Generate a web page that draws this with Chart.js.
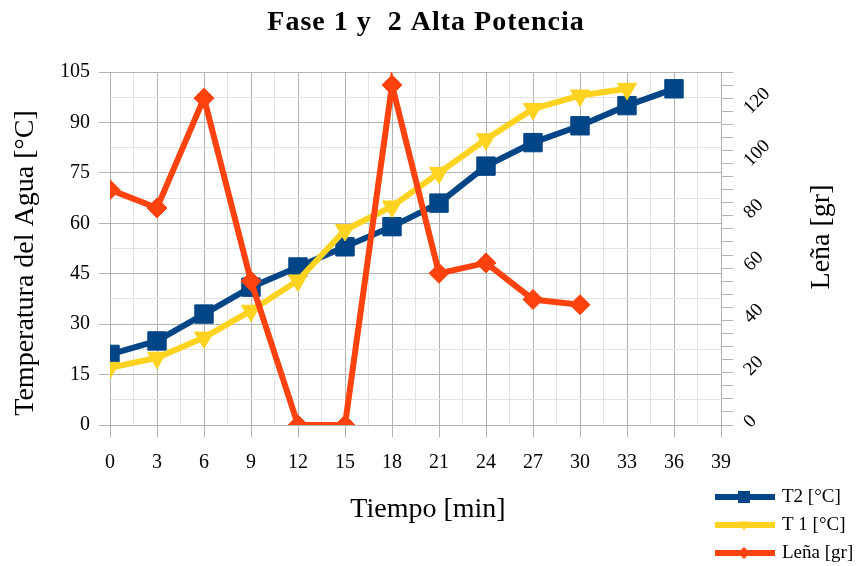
<!DOCTYPE html>
<html>
<head>
<meta charset="utf-8">
<script src="https://cdn.jsdelivr.net/npm/chart.js@4.4.1/dist/chart.umd.min.js"></script>
<style>
  html, body { margin: 0; padding: 0; background: #fff; }
  #wrap { width: 868px; height: 566px; }
</style>
</head>
<body>
<div id="wrap"><canvas id="faseChart" width="868" height="566"></canvas></div>
<script>
const chartTitle = "Fase 1 y  2 Alta Potencia";
const xTitle = "Tiempo [min]";
const yLeftTitle = "Temperatura del Agua [°C]";
const yRightTitle = "Leña [gr]";

// tiempo [min]
const tiempo = [0, 3, 6, 9, 12, 15, 18, 21, 24, 27, 30, 33, 36];
const t2 = [21, 25, 33, 41, 47, 53, 59, 66, 77, 84, 89, 95, 100];
const t1 = [17, 20, 26, 34, 43, 58, 65, 75, 85, 94, 98, 100];
const lena = [90, 83, 125, 55, 0, 0, 130, 58, 62, 48, 46];

const seriesNames = ["T2 [°C]", "T 1 [°C]", "Leña [gr]"];
const colors = ["#004586", "#ffd320", "#ff420e"];

const serif = '"Liberation Serif", "DejaVu Serif", serif';
const gridMajor = "#b3b3b3";
const gridMinor = "#e3e3e3";

function pts(ys) {
    return ys.map((y, i) => ({x: tiempo[i], y: y}));
}

function isMult(v, m) {
    return Math.abs(v / m - Math.round(v / m)) < 1e-6;
}

function drawMarker(ctx, shape, x, y, r) {
    ctx.beginPath();
    if (shape === 'rect') {
        ctx.rect(x - r, y - r, 2 * r, 2 * r);
    } else if (shape === 'triangle') {
        ctx.moveTo(x - r, y - r * 0.6);
        ctx.lineTo(x + r, y - r * 0.6);
        ctx.lineTo(x, y + r * 0.9);
        ctx.closePath();
    } else {
        ctx.moveTo(x, y - r);
        ctx.lineTo(x + r, y);
        ctx.lineTo(x, y + r);
        ctx.lineTo(x - r, y);
        ctx.closePath();
    }
    ctx.fill();
}

function rotatedText(ctx, text, x, y) {
    ctx.save();
    ctx.translate(x, y);
    ctx.rotate(-Math.PI / 2);
    ctx.fillText(text, 0, 0);
    ctx.restore();
}

const extras = {
    id: 'extras',
    afterDraw(chart) {
        const ctx = chart.ctx;
        ctx.save();
        ctx.fillStyle = '#000';
        ctx.textAlign = 'center';
        ctx.textBaseline = 'middle';

        ctx.font = 'bold 28px ' + serif;
        ctx.letterSpacing = '1px';
        ctx.fillText(chartTitle, 426, 23);
        ctx.letterSpacing = '0px';

        ctx.font = '28px ' + serif;
        ctx.fillText(xTitle, 428, 510);
        rotatedText(ctx, yLeftTitle, 26, 263);
        rotatedText(ctx, yRightTitle, 822, 237);

        // leyenda
        const shapes = ['rect', 'triangle', 'diamond'];
        const rows = [497, 525, 553];
        ctx.textAlign = 'left';
        ctx.font = '19px ' + serif;
        for (let i = 0; i < 3; i++) {
            ctx.strokeStyle = colors[i];
            ctx.fillStyle = colors[i];
            ctx.lineWidth = 6;
            ctx.beginPath();
            ctx.moveTo(715, rows[i]);
            ctx.lineTo(775, rows[i]);
            ctx.stroke();
            drawMarker(ctx, shapes[i], 744, rows[i], 6);
            ctx.fillStyle = '#000';
            ctx.fillText(seriesNames[i], 782, rows[i]);
        }
        ctx.restore();
    }
};

new Chart(document.getElementById('faseChart'), {
    type: 'line',
    plugins: [extras],
    data: {
        datasets: [
            {
                label: seriesNames[0],
                data: pts(t2),
                borderColor: colors[0],
                backgroundColor: colors[0],
                borderWidth: 6,
                pointStyle: 'rect',
                pointRadius: 13,
                pointBorderWidth: 1,
                yAxisID: 'y',
                order: 3
            },
            {
                label: seriesNames[1],
                data: pts(t1),
                borderColor: colors[1],
                backgroundColor: colors[1],
                borderWidth: 6,
                pointStyle: 'triangle',
                pointRotation: 180,
                pointRadius: 11,
                pointBorderWidth: 1,
                yAxisID: 'y',
                order: 2
            },
            {
                label: seriesNames[2],
                data: pts(lena),
                borderColor: colors[2],
                backgroundColor: colors[2],
                borderWidth: 6,
                pointStyle: 'rectRot',
                pointRadius: 10,
                pointBorderWidth: 1,
                yAxisID: 'y1',
                order: 1
            }
        ]
    },
    options: {
        responsive: false,
        animation: false,
        maintainAspectRatio: false,
        layout: {
            padding: {top: 72, left: 0, right: 0, bottom: 0}
        },
        plugins: {
            legend: {display: false},
            title: {display: false},
            tooltip: {enabled: false}
        },
        scales: {
            x: {
                type: 'linear',
                min: 0,
                max: 39,
                afterFit: (s) => { s.height = 141; },
                border: {color: gridMajor, width: 1},
                grid: {
                    color: (c) => isMult(c.tick.value, 3) ? gridMajor : gridMinor,
                    tickColor: (c) => isMult(c.tick.value, 3) ? gridMajor : 'rgba(0,0,0,0)',
                    tickLength: 12
                },
                ticks: {
                    stepSize: 1.5,
                    autoSkip: false,
                    maxRotation: 0,
                    padding: 14,
                    color: '#000',
                    font: {family: serif, size: 20},
                    callback: (v) => isMult(v, 3) ? String(Math.round(v)) : ''
                }
            },
            y: {
                position: 'left',
                min: 0,
                max: 105,
                afterFit: (s) => { s.width = 110; },
                border: {color: gridMajor, width: 1},
                grid: {
                    color: (c) => isMult(c.tick.value, 15) ? gridMajor : gridMinor,
                    tickColor: (c) => isMult(c.tick.value, 15) ? gridMajor : 'rgba(0,0,0,0)',
                    tickLength: 11
                },
                ticks: {
                    stepSize: 7.5,
                    autoSkip: false,
                    padding: 9,
                    color: '#000',
                    font: {family: serif, size: 20},
                    callback: (v) => isMult(v, 15) ? String(Math.round(v)) : ''
                }
            },
            y1: {
                position: 'right',
                min: 0,
                max: 135,
                afterFit: (s) => { s.width = 147; },
                border: {color: gridMajor, width: 1},
                grid: {
                    drawOnChartArea: false,
                    color: gridMajor,
                    tickColor: gridMajor,
                    tickLength: 12
                },
                ticks: {
                    stepSize: 5,
                    autoSkip: false,
                    minRotation: 45,
                    maxRotation: 45,
                    padding: 14,
                    color: '#000',
                    font: {family: serif, size: 19},
                    callback: (v) => (isMult(v, 20) && v <= 120) ? String(Math.round(v)) : ''
                }
            }
        }
    }
});
</script>
</body>
</html>
